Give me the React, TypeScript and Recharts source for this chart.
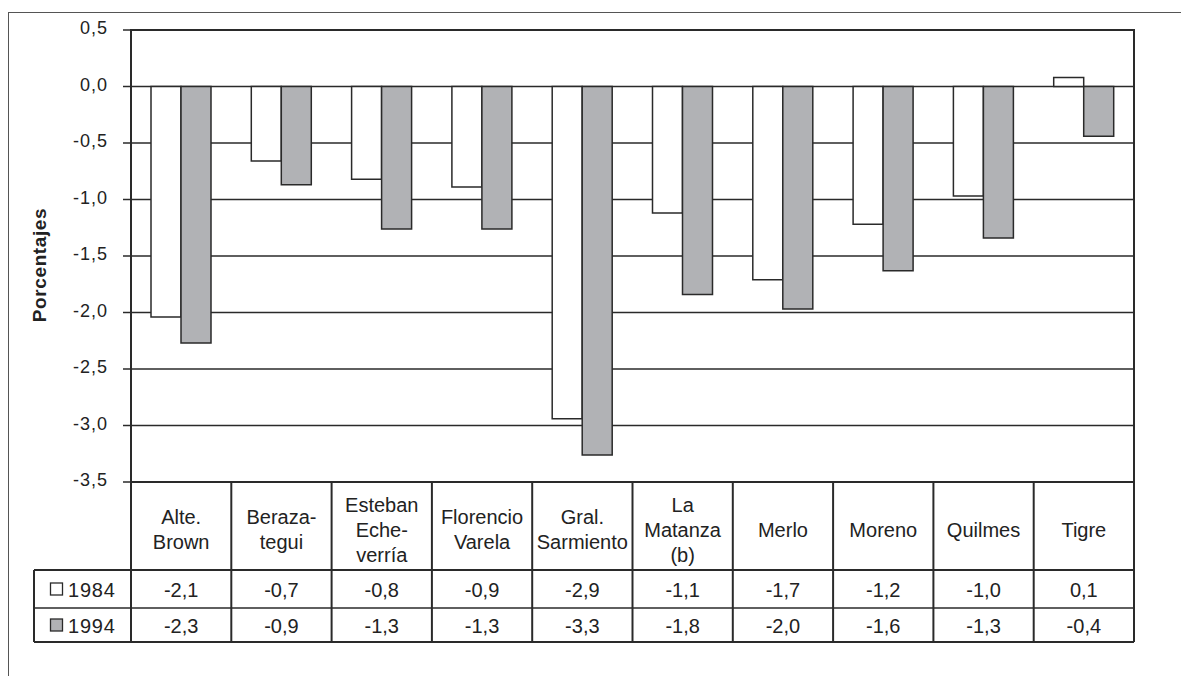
import { BarChart, Bar, XAxis, YAxis, CartesianGrid, ReferenceArea } from 'recharts';

// municipios (cabecera de la tabla, con saltos de línea)
const municipios = [
  'Alte.\nBrown',
  'Beraza-\ntegui',
  'Esteban\nEche-\nverría',
  'Florencio\nVarela',
  'Gral.\nSarmiento',
  'La\nMatanza\n(b)',
  'Merlo',
  'Moreno',
  'Quilmes',
  'Tigre'
];

const serie1984 = [-2.04, -0.66, -0.82, -0.89, -2.94, -1.12, -1.71, -1.22, -0.97, 0.08];
const serie1994 = [-2.27, -0.87, -1.26, -1.26, -3.26, -1.84, -1.97, -1.63, -1.34, -0.44];

// valores impresos en la tabla
const tabla1984 = ['-2,1', '-0,7', '-0,8', '-0,9', '-2,9', '-1,1', '-1,7', '-1,2', '-1,0', '0,1'];
const tabla1994 = ['-2,3', '-0,9', '-1,3', '-1,3', '-3,3', '-1,8', '-2,0', '-1,6', '-1,3', '-0,4'];

const anios = ['1984', '1994'];
const yTicks = [0.5, 0, -0.5, -1, -1.5, -2, -2.5, -3, -3.5];

const data = municipios.map((name, i) => ({
  name,
  v1984: serie1984[i],
  v1994: serie1994[i]
}));

const W = 1181;
const H = 676;
const PLOT_LEFT = 131;
const PLOT_RIGHT = 1134;
const PLOT_TOP = 30;
const PLOT_BOTTOM = 482;
const ROW_A = 570;
const ROW_B = 608;
const ROW_C = 642;
const TABLE_LEFT = 34;
const BAND = (PLOT_RIGHT - PLOT_LEFT) / municipios.length;
const LINE = '#2a2a2a';
const GRAY = '#b1b2b5';

const fmt = (v: number) => v.toFixed(1).replace('.', ',');

const YTick = (props: any) => {
  const { x, y, payload } = props;
  return (
    <text x={x} y={y + 4} textAnchor="end" fontSize={18} letterSpacing={1} fill="#222">
      {fmt(payload.value)}
    </text>
  );
};

const TableTick = (props: any) => {
  const { x, payload, index } = props;
  const i = payload?.index ?? index;
  const lines = String(payload.value).split('\n');
  const left = x - BAND / 2;
  const right = x + BAND / 2;
  const mid = 529.5;
  return (
    <g>
      {i === 0 && (
        <g>
          <line x1={TABLE_LEFT} x2={PLOT_RIGHT} y1={ROW_A} y2={ROW_A} stroke={LINE} strokeWidth={2} />
          <line x1={TABLE_LEFT} x2={PLOT_RIGHT} y1={ROW_B} y2={ROW_B} stroke={LINE} strokeWidth={1.5} />
          <line x1={TABLE_LEFT} x2={PLOT_RIGHT} y1={ROW_C} y2={ROW_C} stroke={LINE} strokeWidth={2} />
          <line x1={TABLE_LEFT} x2={TABLE_LEFT} y1={ROW_A} y2={ROW_C} stroke={LINE} strokeWidth={2} />
          {anios.map((a, k) => {
            const cy = k === 0 ? (ROW_A + ROW_B) / 2 : (ROW_B + ROW_C) / 2;
            return (
              <g key={a}>
                <rect x={50.5} y={cy - 6} width={12} height={12} fill={k === 0 ? '#fff' : GRAY} stroke={LINE} strokeWidth={1.3} />
                <text x={68} y={cy + 7.5} fontSize={20} letterSpacing={0.8} fill="#222">{a}</text>
              </g>
            );
          })}
        </g>
      )}
      <line x1={left} x2={left} y1={PLOT_BOTTOM} y2={ROW_C} stroke={LINE} strokeWidth={2} />
      {i === municipios.length - 1 && (
        <line x1={right} x2={right} y1={PLOT_BOTTOM} y2={ROW_C} stroke={LINE} strokeWidth={2} />
      )}
      {lines.map((t, k) => (
        <text
          key={k}
          x={x}
          y={mid + (k - (lines.length - 1) / 2) * 25 + 7}
          textAnchor="middle"
          fontSize={20}
          fill="#222"
        >
          {t}
        </text>
      ))}
      <text x={x} y={(ROW_A + ROW_B) / 2 + 7.5} textAnchor="middle" fontSize={20} fill="#222">
        {tabla1984[i]}
      </text>
      <text x={x} y={(ROW_B + ROW_C) / 2 + 7.5} textAnchor="middle" fontSize={20} fill="#222">
        {tabla1994[i]}
      </text>
    </g>
  );
};

export default function App() {
  return (
    <div
      style={{
        position: 'absolute',
        left: 0,
        top: 0,
        width: W,
        height: H,
        background: '#fff',
        fontFamily: "'Liberation Sans', Arial, sans-serif"
      }}
    >
      <div style={{ position: 'absolute', left: 8, top: 12, width: W - 8, borderTop: '1px solid #555' }} />
      <div style={{ position: 'absolute', left: 8, top: 12, height: H - 12, borderLeft: '1px solid #555' }} />
      <BarChart
        width={W}
        height={H}
        data={data}
        margin={{ top: PLOT_TOP, right: W - PLOT_RIGHT, left: PLOT_LEFT - 60, bottom: H - PLOT_BOTTOM - 170 }}
        barSize={30}
        barGap={0}
      >
        <CartesianGrid vertical={false} stroke={LINE} strokeWidth={1.5} />
        <ReferenceArea y1={0.5} y2={-3.5} fill="none" stroke={LINE} strokeWidth={2} />
        <XAxis
          dataKey="name"
          height={170}
          interval={0}
          axisLine={false}
          tickLine={false}
          tick={<TableTick />}
        />
        <YAxis
          width={60}
          domain={[-3.5, 0.5]}
          ticks={yTicks}
          tickSize={8}
          tickMargin={15}
          axisLine={{ stroke: LINE, strokeWidth: 2 }}
          tickLine={{ stroke: LINE, strokeWidth: 1.5 }}
          tick={<YTick />}
          label={{
            content: () => (
              <text
                x={46}
                y={265}
                textAnchor="middle"
                fontSize={19}
                fontWeight="bold"
                letterSpacing={0.6}
                fill="#222"
                transform="rotate(-90, 46, 265)"
              >
                Porcentajes
              </text>
            )
          }}
        />
        <Bar dataKey="v1984" fill="#fff" stroke={LINE} strokeWidth={1.5} isAnimationActive={false} />
        <Bar dataKey="v1994" fill={GRAY} stroke={LINE} strokeWidth={1.5} isAnimationActive={false} />
      </BarChart>
    </div>
  );
}
